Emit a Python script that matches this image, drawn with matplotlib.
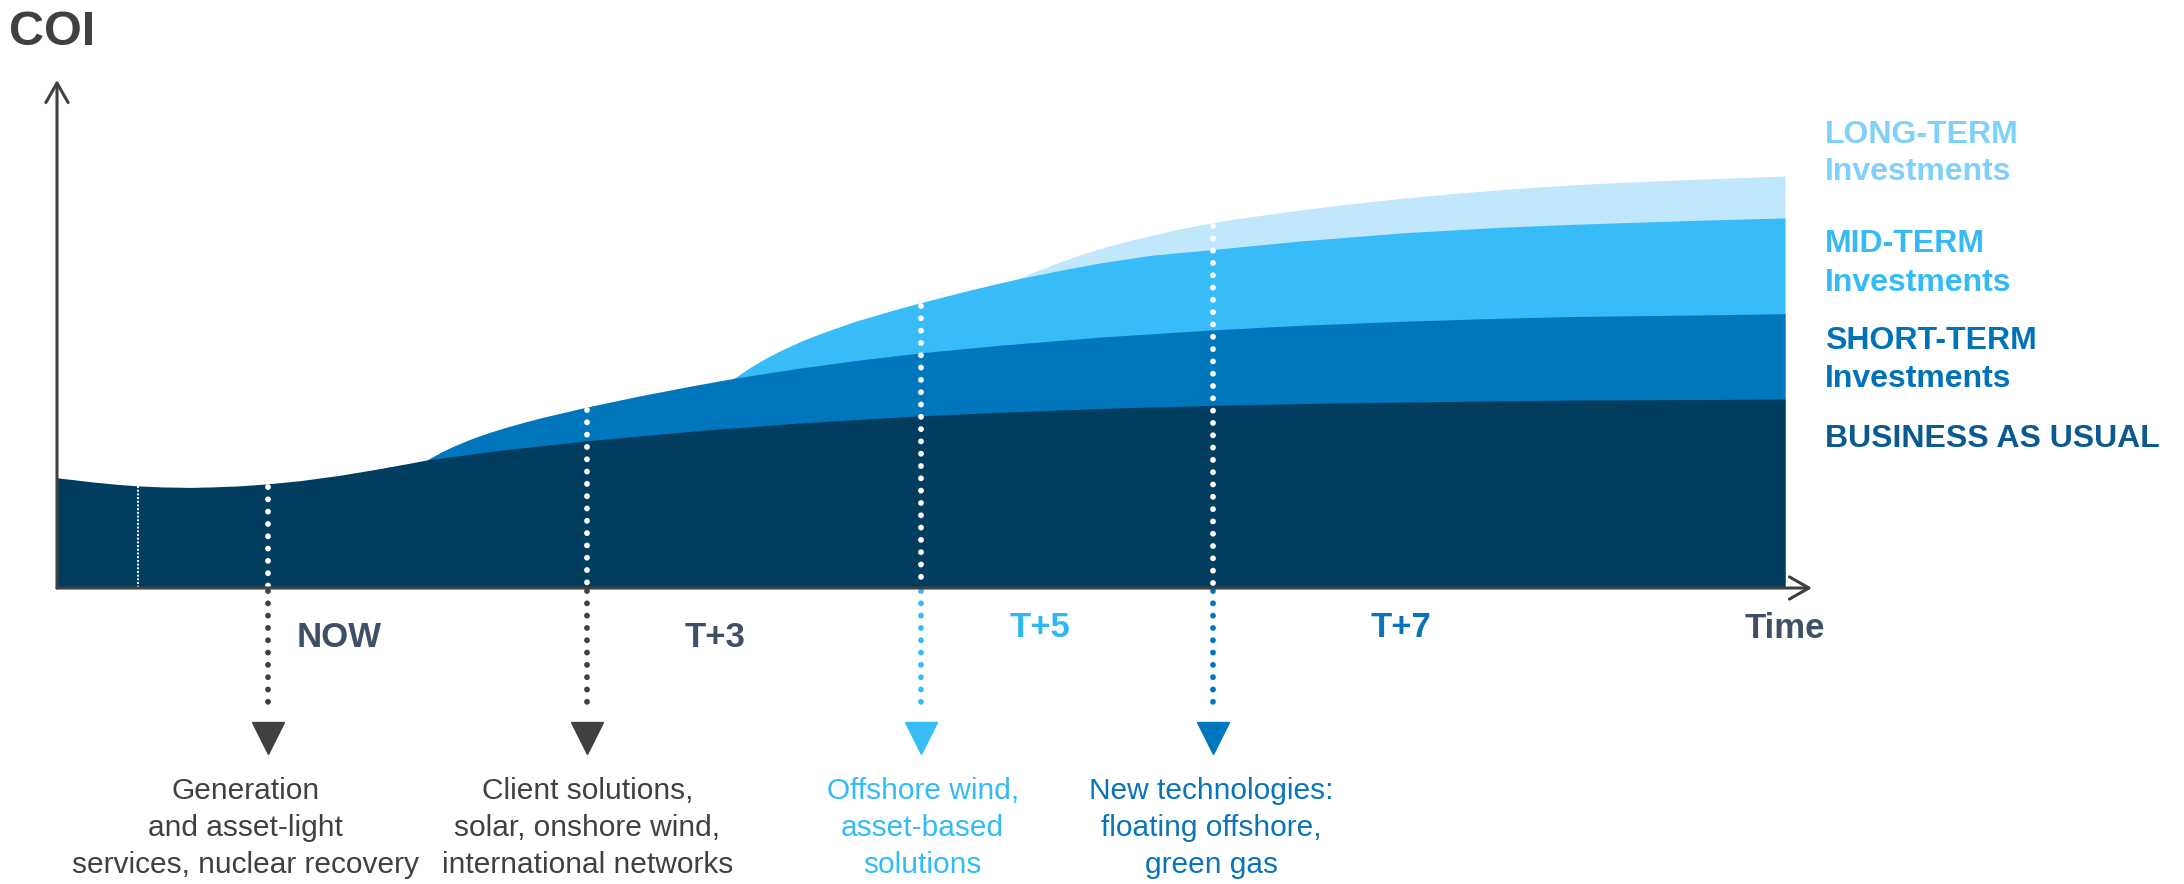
import numpy as np
import matplotlib.pyplot as plt
from matplotlib.patches import FancyArrowPatch

plt.rcParams['font.family'] = ['Liberation Sans', 'DejaVu Sans']

# time in years (0 = y axis), COI index (0 = x axis, 100 = top of y arrow)
bau_t = [0.00, 0.20, 0.35, 0.47, 0.60, 0.77, 0.90, 1.05, 1.22, 1.40, 1.64, 1.85, 2.03, 2.14,
         2.56, 3.07, 3.72, 4.30, 5.00, 5.46, 6.04, 6.68, 7.19, 7.78, 8.35, 8.78, 9.51, 10.0]
bau_v = [21.7, 20.9, 20.4, 20.1, 19.9, 19.8, 19.9, 20.1, 20.5, 21.1, 22.2, 23.4, 24.5, 25.2,
         27.1, 29.0, 31.0, 32.5, 33.9, 34.6, 35.35, 35.95, 36.3, 36.6, 36.85, 37.0, 37.1, 37.2]

short_t = [2.14, 2.22, 2.30, 2.40, 2.50, 2.60, 2.70, 2.80, 2.90, 3.00, 3.07, 3.23, 3.37, 3.66,
           3.92, 4.30, 4.65, 5.00, 5.46, 6.04, 6.68, 7.19, 7.78, 8.35, 8.78, 9.51, 10.0]
short_v = [25.2, 26.7, 28.0, 29.4, 30.6, 31.65, 32.6, 33.5, 34.3, 35.1, 35.65, 36.8, 37.8, 39.7,
           41.3, 43.3, 44.9, 46.3, 47.8, 49.4, 50.8, 51.7, 52.5, 53.1, 53.45, 53.75, 54.0]

mid_t = [3.92, 4.01, 4.10, 4.20, 4.32, 4.42, 4.51, 4.61, 4.70, 4.85, 4.99, 5.11, 5.23, 5.40,
         5.56, 5.80, 6.04, 6.33, 6.68, 7.19, 7.78, 8.35, 8.78, 9.51, 10.0]
mid_v = [41.3, 43.4, 45.2, 46.95, 48.8, 50.1, 51.2, 52.4, 53.3, 54.8, 56.1, 57.15, 58.2, 59.6,
         60.85, 62.5, 64.0, 65.5, 66.6, 68.3, 69.9, 71.0, 71.6, 72.4, 72.85]

long_t = [5.56, 5.65, 5.75, 5.85, 5.94, 6.04, 6.13, 6.23, 6.33, 6.50, 6.69, 6.85, 7.19, 7.48,
          7.78, 8.06, 8.35, 8.78, 9.22, 9.51, 10.0]
long_v = [60.85, 62.15, 63.5, 64.75, 65.8, 66.85, 67.7, 68.6, 69.4, 70.7, 71.95, 72.8, 74.4, 75.6,
          76.7, 77.6, 78.4, 79.4, 80.1, 80.5, 81.1]

band_names = ['LONG-TERM', 'MID-TERM', 'SHORT-TERM', 'BUSINESS AS USUAL']
band_sub = ['Investments', 'Investments', 'Investments', '']
band_fill = ['#c1e7fc', '#38bcf8', '#0077bd', '#003d5f']
band_text = ['#80d0fc', '#36baf5', '#0073b8', '#0a5a8f']
band_label_v = [87.6, 66.1, 47.0, 27.8]
band_sub_v = [80.3, 58.5, 39.6, None]

period_labels = ['NOW', 'T+3', 'T+5', 'T+7', 'Time']
period_t = [1.63, 3.81, 5.69, 7.78, 10.0]
period_v = [-11.6, -11.6, -9.7, -9.7, -9.8]
period_colors = ['#3f5066', '#3f5066', '#2db7f3', '#0a74b9', '#3f5066']

milestone_t = [1.22, 3.07, 5.00, 6.69]
milestone_top = [bau_v, short_v, mid_v, long_v]
milestone_top_t = [bau_t, short_t, mid_t, long_t]
milestone_colors = ['#404040', '#404040', '#38bcf8', '#0077bd']
milestone_text = ['Generation\nand asset-light\nservices, nuclear recovery',
                  'Client solutions,\nsolar, onshore wind,\ninternational networks',
                  'Offshore wind,\nasset-based\nsolutions',
                  'New technologies:\nfloating offshore,\ngreen gas']
milestone_text_t = [1.09, 3.07, 5.01, 6.68]
milestone_text_colors = ['#404040', '#404040', '#33bbf5', '#0a74b9']

thin_t = 0.47

axis_color = '#404040'

fig = plt.figure(figsize=(21.84, 8.84), dpi=100)
ax = fig.add_axes([0, 0, 1, 1])
ax.set_xlim(-57 / 172.8, (2184 - 57) / 172.8)
ax.set_ylim(-(884 - 588) / 5.08, 588 / 5.08)
ax.set_axis_off()

# stacked bands, back to front
for tt, vv, c, z in [(long_t, long_v, band_fill[0], 1), (mid_t, mid_v, band_fill[1], 2),
                     (short_t, short_v, band_fill[2], 3), (bau_t, bau_v, band_fill[3], 4)]:
    ax.fill_between(tt, 0, vv, color=c, lw=0, zorder=z)

# thin dotted line
top = np.interp(thin_t, bau_t, bau_v)
ax.plot([thin_t, thin_t], [top, 0], color='white', lw=1.4, ls=(0, (1.0, 0.9)), zorder=5)

# milestone dotted lines with arrows
for t, tt, vv, c in zip(milestone_t, milestone_top_t, milestone_top, milestone_colors):
    top = np.interp(t, tt, vv)
    ax.plot([t, t], [top - 0.6, 0], color='white', lw=4.2, ls=(0, (0.01, 2.1)),
            dash_capstyle='round', zorder=5)
    ax.plot([t, t], [-0.5, -24.6], color=c, lw=4.2, ls=(0, (0.01, 2.1)),
            dash_capstyle='round', zorder=5)
    ax.plot([t], [-29.5], marker='v', ms=23, color=c, mec=c, zorder=5)

for t, s, c in zip(milestone_text_t, milestone_text, milestone_text_colors):
    ax.text(t, -56.1, s, ha='center', va='baseline', ma='center', fontsize=21.5,
            color=c, linespacing=1.42)

# axes arrows
for a, b in [((0, 0), (0, 100)), ((0, 0), (10.156, 0))]:
    ax.add_patch(FancyArrowPatch(a, b, arrowstyle='->,head_length=0.7,head_width=0.4',
                                 mutation_scale=20, lw=2.2, color=axis_color,
                                 shrinkA=0, shrinkB=0, zorder=6))

ax.text(-0.28, 106.9, 'COI', ha='left', va='baseline', fontsize=35,
        fontweight='bold', color=axis_color)

for s, t, v, c in zip(period_labels, period_t, period_v, period_colors):
    ax.text(t, v, s, ha='center', va='baseline', fontsize=25, fontweight='bold', color=c)

for name, sub, c, v1, v2 in zip(band_names, band_sub, band_text, band_label_v, band_sub_v):
    ax.text(10.23, v1, name, ha='left', va='baseline', fontsize=23, fontweight='bold', color=c)
    if sub:
        ax.text(10.23, v2, sub, ha='left', va='baseline', fontsize=23, fontweight='bold', color=c)

fig.savefig('out.png', dpi=100)
